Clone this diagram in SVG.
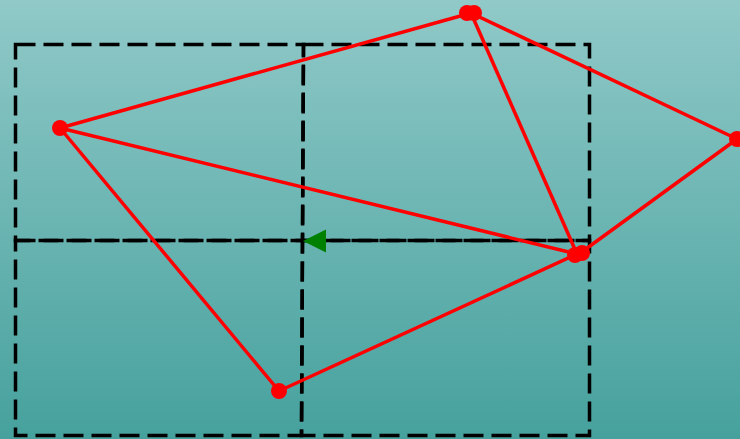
<svg xmlns="http://www.w3.org/2000/svg" width="740" height="439" viewBox="0 0 740 439">
<defs>
<linearGradient id="bg" x1="0" y1="0" x2="0" y2="1">
<stop offset="0" stop-color="#90c9c8"/>
<stop offset="1" stop-color="#46a19d"/>
</linearGradient>
<style>
.grid{fill:none;stroke:#000;stroke-width:3.5;stroke-dasharray:20 8}
.edge{stroke:#ff0000;stroke-width:3.5;fill:none}
.pt{fill:#ff0000}
</style>
</defs>
<rect width="740" height="439" fill="url(#bg)"/>
<g id="grid">
<path class="grid" d="M15.5,44.5 H303.5 L302.5,240.5 H15.5 Z"/>
<path class="grid" d="M303.5,44.5 H589.5 V240.5 H302.5 Z"/>
<path class="grid" d="M15.5,240.5 H302.5 L301.5,435.5 H15.5 Z"/>
<path class="grid" d="M302.5,240.5 H589.5 V435.5 H301.5 Z"/>
</g>
<g id="connectors">
<line class="edge" x1="60" y1="128" x2="471" y2="13"/>
<line class="edge" x1="471" y1="13" x2="737" y2="139"/>
<line class="edge" x1="471" y1="13" x2="577" y2="254"/>
<line class="edge" x1="737" y1="139" x2="579" y2="254"/>
<line class="edge" x1="60" y1="128" x2="577" y2="254"/>
<line class="edge" x1="60" y1="128" x2="279" y2="391"/>
<line class="edge" x1="279" y1="391" x2="577" y2="254"/>
<polygon fill="#008000" points="303,241 326,229.5 326,252.5"/>
</g>
<g id="nodeA"><circle class="pt" cx="60" cy="128" r="8"/></g>
<g id="nodeB"><circle class="pt" cx="467" cy="13" r="8"/><circle class="pt" cx="474" cy="13" r="8"/></g>
<g id="nodeC"><circle class="pt" cx="737" cy="139" r="8"/></g>
<g id="nodeD"><circle class="pt" cx="575" cy="255" r="8"/><circle class="pt" cx="582" cy="253" r="8"/></g>
<g id="nodeE"><circle class="pt" cx="279" cy="391" r="8"/></g>
</svg>
